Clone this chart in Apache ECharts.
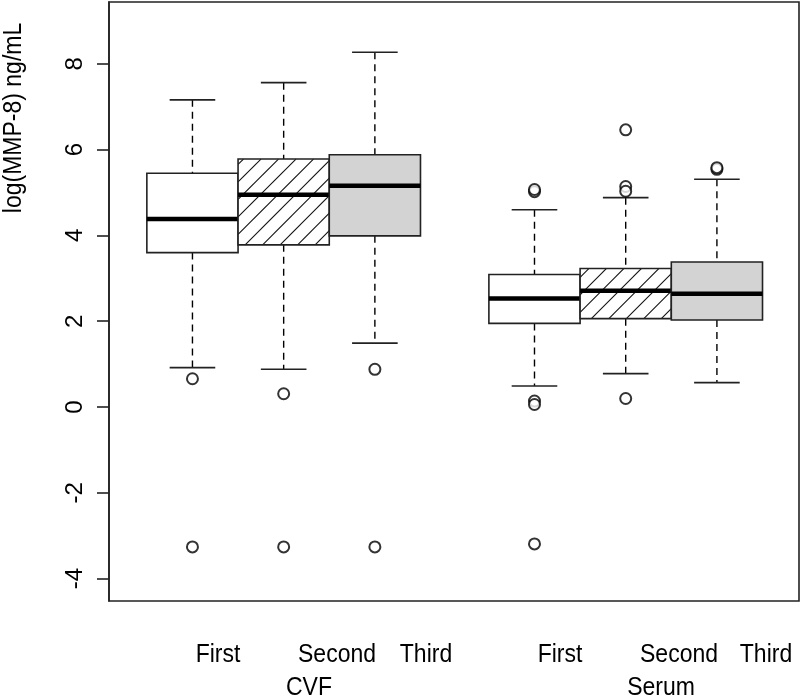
<!DOCTYPE html>
<html>
<head>
<meta charset="utf-8">
<script src="https://cdn.jsdelivr.net/npm/echarts@6/dist/echarts.min.js"></script>
<style>
  html, body { margin: 0; padding: 0; background: #fff; }
  #chart { width: 800px; height: 699px; }
</style>
</head>
<body>
<div id="chart"></div>
<script>
  // box positions (R-style at = 1,2,3 and 4.75,5.75,6.75)
  const boxX = [1, 2, 3, 4.75, 5.75, 6.75];
  const boxFill = ['white', 'hatch', 'gray', 'white', 'hatch', 'gray'];
  const lowWhisker = [0.92, 0.88, 1.49, 0.49, 0.78, 0.57];
  const q1 = [3.60, 3.78, 3.99, 1.95, 2.06, 2.03];
  const median = [4.38, 4.95, 5.16, 2.53, 2.71, 2.64];
  const q3 = [5.45, 5.78, 5.88, 3.09, 3.23, 3.38];
  const highWhisker = [7.16, 7.56, 8.27, 4.60, 4.88, 5.31];
  const outliers = [
    [1, 0.66], [1, -3.26],
    [2, 0.31], [2, -3.26],
    [3, 0.88], [3, -3.26],
    [4.75, 5.02], [4.75, 5.07], [4.75, 0.14], [4.75, 0.06], [4.75, -3.19],
    [5.75, 6.46], [5.75, 5.14], [5.75, 5.03], [5.75, 0.20],
    [6.75, 5.54], [6.75, 5.58]
  ];
  const yTicks = [-4, -2, 0, 2, 4, 6, 8];
  const timeLabels = ['First', 'Second', 'Third', 'First', 'Second', 'Third'];
  const groupLabels = ['CVF', 'Serum'];

  const FONT = '"Liberation Sans", Arial, sans-serif';

  const boxData = boxX.map((x, i) => [x, lowWhisker[i], q1[i], median[i], q3[i], highWhisker[i], i]);

  function renderBox(params, api) {
    const x = api.value(0);
    const i = api.value(6);
    const pLow = api.coord([x, api.value(1)]);
    const pQ1 = api.coord([x, api.value(2)]);
    const pMed = api.coord([x, api.value(3)]);
    const pQ3 = api.coord([x, api.value(4)]);
    const pHigh = api.coord([x, api.value(5)]);
    const w = api.size([1, 0])[0];
    const cx = pMed[0];
    const x0 = cx - w / 2, x1 = cx + w / 2;
    const y0 = pQ3[1], y1 = pQ1[1];
    const kind = boxFill[i];
    const children = [];

    // whiskers
    children.push({ type: 'line', shape: { x1: cx, y1: pHigh[1], x2: cx, y2: y0 },
      style: { stroke: '#000', lineWidth: 1.4, lineDash: [7, 5] } });
    children.push({ type: 'line', shape: { x1: cx, y1: y1, x2: cx, y2: pLow[1] },
      style: { stroke: '#000', lineWidth: 1.4, lineDash: [7, 5] } });
    children.push({ type: 'line', shape: { x1: cx - w / 4, y1: pHigh[1], x2: cx + w / 4, y2: pHigh[1] },
      style: { stroke: '#222', lineWidth: 1.6 } });
    children.push({ type: 'line', shape: { x1: cx - w / 4, y1: pLow[1], x2: cx + w / 4, y2: pLow[1] },
      style: { stroke: '#222', lineWidth: 1.6 } });

    // box
    children.push({ type: 'rect', shape: { x: x0, y: y0, width: w, height: y1 - y0 },
      style: { fill: kind === 'gray' ? '#d3d3d3' : '#fff', stroke: 'none' } });

    if (kind === 'hatch') {
      const step = 17.5;
      const cStart = Math.ceil((x0 + y0) / step);
      const cEnd = Math.floor((x1 + y1) / step);
      for (let k = cStart; k <= cEnd; k++) {
        const c = k * step;
        const xa = Math.max(x0, c - y1);
        const xb = Math.min(x1, c - y0);
        if (xb <= xa) continue;
        children.push({ type: 'line', shape: { x1: xa, y1: c - xa, x2: xb, y2: c - xb },
          style: { stroke: '#111', lineWidth: 1.1 } });
      }
    }

    children.push({ type: 'rect', shape: { x: x0, y: y0, width: w, height: y1 - y0 },
      style: { fill: 'none', stroke: '#222', lineWidth: 1.6 } });

    // median
    children.push({ type: 'line', shape: { x1: x0, y1: pMed[1], x2: x1, y2: pMed[1] },
      style: { stroke: '#000', lineWidth: 4.5 } });

    return { type: 'group', children: children };
  }

  const chart = echarts.init(document.getElementById('chart'));

  const graphics = [];
  // time labels under each box (offset to the right like the original)
  const labelX = [218, 337, 426, 560, 679, 766];
  timeLabels.forEach((t, i) => {
    graphics.push({ type: 'text', x: labelX[i], y: 655, scaleY: 1.15,
      style: { text: t, font: '23px ' + FONT, fill: '#000', textAlign: 'center', textVerticalAlign: 'middle' } });
  });
  const groupX = [309, 661];
  groupLabels.forEach((t, i) => {
    graphics.push({ type: 'text', x: groupX[i], y: 688, scaleY: 1.15,
      style: { text: t, font: '23px ' + FONT, fill: '#000', textAlign: 'center', textVerticalAlign: 'middle' } });
  });
  graphics.push({ type: 'text', x: 14, y: 118, rotation: Math.PI / 2, scaleY: 1.12,
    style: { text: 'log(MMP-8) ng/mL', font: '23px ' + FONT, fill: '#000', textAlign: 'center', textVerticalAlign: 'middle' } });
  // plot frame
  graphics.push({ type: 'rect', shape: { x: 109, y: 2, width: 690, height: 599 },
    style: { fill: 'none', stroke: '#222', lineWidth: 1.6 }, z: 10 });

  chart.setOption({
    animation: false,
    backgroundColor: '#fff',
    grid: { left: 109, right: 1, top: 2, bottom: 98 },
    xAxis: {
      type: 'value', min: 0.085, max: 7.65,
      axisLine: { show: false }, axisTick: { show: false },
      axisLabel: { show: false }, splitLine: { show: false }
    },
    yAxis: {
      type: 'value', min: -4.52, max: 9.44,
      axisLine: { show: true, lineStyle: { color: '#222', width: 1.6 } },
      axisTick: { show: true, length: 12, customValues: yTicks, lineStyle: { color: '#222', width: 1.6 } },
      axisLabel: {
        customValues: yTicks, rotate: 90, margin: 22,
        fontSize: 24, fontFamily: FONT, color: '#000'
      },
      splitLine: { show: false }
    },
    graphic: graphics,
    series: [
      {
        type: 'custom',
        renderItem: renderBox,
        data: boxData,
        encode: { x: 0, y: [1, 2, 3, 4, 5] },
        clip: false
      },
      {
        type: 'scatter',
        data: outliers,
        symbol: 'emptyCircle',
        symbolSize: 11,
        itemStyle: { color: '#000', borderColor: '#000', borderWidth: 1.4 }
      }
    ]
  });
</script>
</body>
</html>
